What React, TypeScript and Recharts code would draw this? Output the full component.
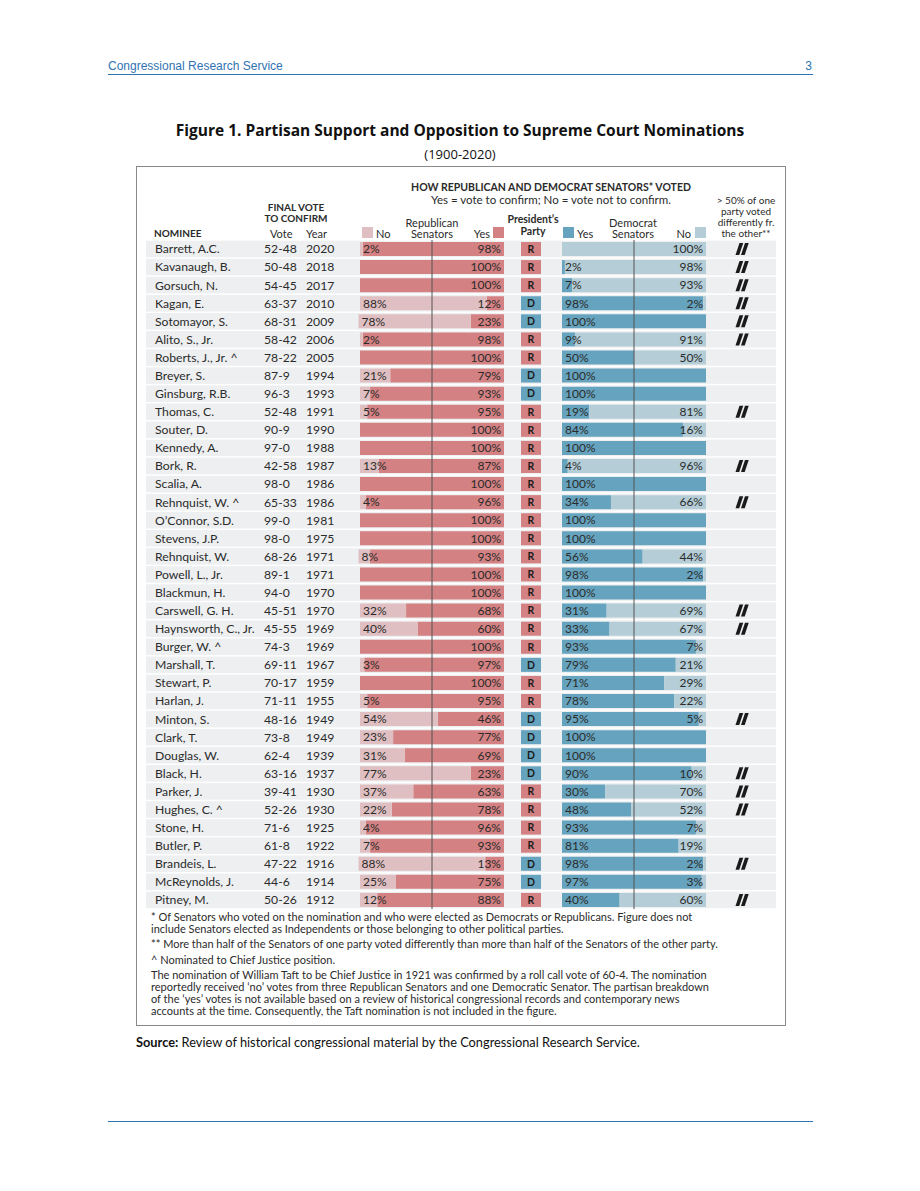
import React from 'react'
import { BarChart, Bar, XAxis, YAxis, LabelList, ReferenceLine } from 'recharts'

const nominees = [
  'Barrett, A.C.', 'Kavanaugh, B.', 'Gorsuch, N.', 'Kagan, E.', 'Sotomayor, S.', 'Alito, S., Jr.',
  'Roberts, J., Jr. ^', 'Breyer, S.', 'Ginsburg, R.B.', 'Thomas, C.', 'Souter, D.', 'Kennedy, A.',
  'Bork, R.', 'Scalia, A.', 'Rehnquist, W. ^', 'O\u2019Connor, S.D.', 'Stevens, J.P.', 'Rehnquist, W.',
  'Powell, L., Jr.', 'Blackmun, H.', 'Carswell, G. H.', 'Haynsworth, C., Jr.', 'Burger, W. ^',
  'Marshall, T.', 'Stewart, P.', 'Harlan, J.', 'Minton, S.', 'Clark, T.', 'Douglas, W.', 'Black, H.',
  'Parker, J.', 'Hughes, C. ^', 'Stone, H.', 'Butler, P.', 'Brandeis, L.', 'McReynolds, J.', 'Pitney, M.',
]
const votes = [
  '52-48', '50-48', '54-45', '63-37', '68-31', '58-42', '78-22', '87-9', '96-3', '52-48', '90-9', '97-0',
  '42-58', '98-0', '65-33', '99-0', '98-0', '68-26', '89-1', '94-0', '45-51', '45-55', '74-3', '69-11',
  '70-17', '71-11', '48-16', '73-8', '62-4', '63-16', '39-41', '52-26', '71-6', '61-8', '47-22', '44-6', '50-26',
]
const years = [
  2020, 2018, 2017, 2010, 2009, 2006, 2005, 1994, 1993, 1991, 1990, 1988, 1987, 1986, 1986, 1981, 1975, 1971,
  1971, 1970, 1970, 1969, 1969, 1967, 1959, 1955, 1949, 1949, 1939, 1937, 1930, 1930, 1925, 1922, 1916, 1914, 1912,
]
const presParty = [
  'R', 'R', 'R', 'D', 'D', 'R', 'R', 'D', 'D', 'R', 'R', 'R', 'R', 'R', 'R', 'R', 'R', 'R', 'R', 'R', 'R', 'R',
  'R', 'D', 'R', 'R', 'D', 'D', 'D', 'D', 'R', 'R', 'R', 'R', 'D', 'D', 'R',
]
// Republican senators: share voting No / Yes
const repNo = [2, 0, 0, 88, 78, 2, 0, 21, 7, 5, 0, 0, 13, 0, 4, 0, 0, 8, 0, 0, 32, 40, 0, 3, 0, 5, 54, 23, 31, 77, 37, 22, 4, 7, 88, 25, 12]
const repYes = [98, 100, 100, 12, 23, 98, 100, 79, 93, 95, 100, 100, 87, 100, 96, 100, 100, 93, 100, 100, 68, 60, 100, 97, 100, 95, 46, 77, 69, 23, 63, 78, 96, 93, 13, 75, 88]
// Democrat senators: share voting Yes / No
const demYes = [0, 2, 7, 98, 100, 9, 50, 100, 100, 19, 84, 100, 4, 100, 34, 100, 100, 56, 98, 100, 31, 33, 93, 79, 71, 78, 95, 100, 100, 90, 30, 48, 93, 81, 98, 97, 40]
const demNo = [100, 98, 93, 2, 0, 91, 50, 0, 0, 81, 16, 0, 96, 0, 66, 0, 0, 44, 2, 0, 69, 67, 7, 21, 29, 22, 5, 0, 0, 10, 70, 52, 7, 19, 2, 3, 60]
// > 50% of one party voted differently from the other
const split = [1, 1, 1, 1, 1, 1, 0, 0, 0, 1, 0, 0, 1, 0, 1, 0, 0, 0, 0, 0, 1, 1, 0, 0, 0, 0, 1, 0, 0, 1, 1, 1, 0, 0, 1, 0, 1]

const rows = nominees.map((name, i) => ({
  name,
  vote: votes[i],
  year: years[i],
  party: presParty[i],
  repNo: repNo[i],
  repYes: repYes[i],
  demYes: demYes[i],
  demNo: demNo[i],
  split: split[i] === 1,
}))

const RED = '#d38182'
const PINK = '#dfbfc1'
const BLUE = '#66a3be'
const LIGHTBLUE = '#b4cdd7'
const BAND = '#eeeff1'
const INK = '#2b2b2b'
const CRS = '#2f73b3'
const FONT = 'Lato, "Open Sans", sans-serif'
const TITLE_FONT = '"Open Sans", Lato, sans-serif'

// page geometry of the chart block
const CHART_LEFT = 146
const CHART_TOP = 240
const CHART_W = 630
const CHART_H = 669
const CHART_RIGHT = CHART_LEFT + CHART_W
const REP_RIGHT = 504 // republican bar runs right-to-left from here (Yes first, then No)
const DEM_X0 = 562
const BAR_PX = 144
const pxPerUnit = BAR_PX / 100
const REP_DOMAIN = [-(CHART_RIGHT - REP_RIGHT) / pxPerUnit, (REP_RIGHT - CHART_LEFT) / pxPerUnit]
const DEM_DOMAIN = [-(DEM_X0 - CHART_LEFT) / pxPerUnit, (CHART_RIGHT - DEM_X0) / pxPerUnit]

const pct = (v: any) => (v ? `${v}%` : '')

function T({ x, y, size = 11, bold = false, align = 'left', color = INK, family = FONT, children }: any) {
  const shift = align === 'center' ? '-50%' : align === 'right' ? '-100%' : '0'
  return (
    <div
      style={{
        position: 'absolute',
        left: x,
        top: y - size / 2,
        fontSize: size,
        lineHeight: `${size}px`,
        fontWeight: bold ? 700 : 400,
        fontFamily: family,
        color,
        whiteSpace: 'nowrap',
        transform: `translateX(${shift})`,
      }}
    >
      {children}
    </div>
  )
}

function Swatch({ x, color }: any) {
  return <div style={{ position: 'absolute', left: x, top: 227, width: 11, height: 11, background: color }} />
}

// grey row band plus the row's text columns, badge and split marker
function RowBand(p: any) {
  const yc = p.y + p.height / 2
  const r = p.payload && p.payload.name ? p.payload : rows[Math.floor(yc / (CHART_H / rows.length))]
  const bx = DEM_X0 - CHART_LEFT - 41
  const sx = 742 - CHART_LEFT
  return (
    <g>
      <rect x={p.x} y={p.y - 1.3} width={p.width} height={p.height + 2.6} fill={BAND} />
      {r && (
        <g fontFamily={FONT} fill={INK}>
          <text x={9} y={yc} dy="0.36em" fontSize={12.2}>{r.name}</text>
          <text x={118} y={yc} dy="0.36em" fontSize={12.2}>{r.vote}</text>
          <text x={160} y={yc} dy="0.36em" fontSize={12.2}>{r.year}</text>
          <rect x={bx} y={yc - 7} width={20} height={14} fill={r.party === 'R' ? RED : BLUE} />
          <text x={bx + 10} y={yc} dy="0.36em" fontSize={10.5} fontWeight={700} textAnchor="middle" fill="#1c1c1c">
            {r.party}
          </text>
          {r.split && (
            <g fill="#1a1a1a">
              <path d={`M${sx - 6.5},${yc + 6} L${sx - 2.8},${yc + 6} L${sx + 1.2},${yc - 6} L${sx - 2.5},${yc - 6} Z`} />
              <path d={`M${sx - 1},${yc + 6} L${sx + 2.7},${yc + 6} L${sx + 6.7},${yc - 6} L${sx + 3},${yc - 6} Z`} />
            </g>
          )}
        </g>
      )}
    </g>
  )
}

const labelStyle = { fill: INK, fontSize: 12, fontFamily: FONT }

export default function App() {
  return (
    <div style={{ position: 'absolute', left: 0, top: 0, width: 920, height: 1191, background: '#fff', fontFamily: FONT }}>
      {/* page header */}
      <T x={108} y={66} size={12} color={CRS} family='"Liberation Sans", Arial, sans-serif'>Congressional Research Service</T>
      <T x={812} y={66} size={12} align="right" color={CRS} family='"Liberation Sans", Arial, sans-serif'>3</T>
      <div style={{ position: 'absolute', left: 108, top: 74, width: 705, height: 1, background: CRS }} />

      <T x={460} y={131} size={15.5} bold align="center" color="#111" family={TITLE_FONT}>
        Figure 1. Partisan Support and Opposition to Supreme Court Nominations
      </T>
      <T x={460} y={154} size={13} align="center" color="#111" family={TITLE_FONT}>(1900-2020)</T>

      <div style={{ position: 'absolute', left: 136, top: 166, width: 648, height: 858, border: '1px solid #8a8a8a' }} />

      {/* table header */}
      <T x={551} y={187} size={10.5} bold align="center">HOW REPUBLICAN AND DEMOCRAT SENATORS* VOTED</T>
      <T x={551} y={200} size={11.5} align="center">Yes = vote to confirm; No = vote not to confirm.</T>
      <T x={296} y={207} size={10} bold align="center">FINAL VOTE</T>
      <T x={296} y={218} size={10} bold align="center">TO CONFIRM</T>
      <T x={154} y={233} size={10} bold>NOMINEE</T>
      <T x={270} y={233} size={11}>Vote</T>
      <T x={306} y={233} size={11}>Year</T>

      <Swatch x={362} color={PINK} />
      <T x={376} y={233} size={11}>No</T>
      <T x={432} y={222} size={11} align="center">Republican</T>
      <T x={432} y={233} size={11} align="center">Senators</T>
      <T x={490} y={233} size={11} align="right">Yes</T>
      <Swatch x={493} color={RED} />
      <T x={533} y={219} size={10.5} bold align="center">President’s</T>
      <T x={533} y={231} size={10.5} bold align="center">Party</T>
      <Swatch x={563} color={BLUE} />
      <T x={577} y={233} size={11}>Yes</T>
      <T x={633} y={222} size={11} align="center">Democrat</T>
      <T x={633} y={233} size={11} align="center">Senators</T>
      <T x={691} y={233} size={11} align="right">No</T>
      <Swatch x={695} color={LIGHTBLUE} />
      <T x={746} y={200} size={10} align="center">&gt; 50% of one</T>
      <T x={746} y={211} size={10} align="center">party voted</T>
      <T x={746} y={222} size={10} align="center">differently fr.</T>
      <T x={746} y={233} size={10} align="center">the other**</T>

      <div style={{ position: 'absolute', left: CHART_LEFT, top: CHART_TOP }}>
        <BarChart
          width={CHART_W}
          height={CHART_H}
          layout="vertical"
          data={rows}
          margin={{ top: 0, right: 0, bottom: 0, left: 0 }}
          barSize={14}
          barGap={-14}
        >
          <XAxis xAxisId="rep" type="number" domain={REP_DOMAIN} reversed allowDataOverflow hide />
          <XAxis xAxisId="dem" type="number" domain={DEM_DOMAIN} allowDataOverflow hide />
          <YAxis type="category" dataKey="name" hide />
          {/* reversed axis: "insideLeft" lands at the bar's right end, and vice versa */}
          <Bar xAxisId="rep" dataKey="repYes" stackId="rep" fill={RED} background={RowBand} isAnimationActive={false}>
            <LabelList dataKey="repYes" position="insideLeft" offset={3} formatter={pct} style={labelStyle} />
          </Bar>
          <Bar xAxisId="rep" dataKey="repNo" stackId="rep" fill={PINK} isAnimationActive={false}>
            <LabelList dataKey="repNo" position="insideRight" offset={3} formatter={pct} style={labelStyle} />
          </Bar>
          <Bar xAxisId="dem" dataKey="demYes" stackId="dem" fill={BLUE} isAnimationActive={false}>
            <LabelList dataKey="demYes" position="insideLeft" offset={3} formatter={pct} style={labelStyle} />
          </Bar>
          <Bar xAxisId="dem" dataKey="demNo" stackId="dem" fill={LIGHTBLUE} isAnimationActive={false}>
            <LabelList dataKey="demNo" position="insideRight" offset={3} formatter={pct} style={labelStyle} />
          </Bar>
          <ReferenceLine xAxisId="rep" x={50} stroke="#555" strokeWidth={1} />
          <ReferenceLine xAxisId="dem" x={50} stroke="#555" strokeWidth={1} />
        </BarChart>
      </div>

      {/* notes */}
      <T x={151} y={916} size={11}>* Of Senators who voted on the nomination and who were elected as Democrats or Republicans. Figure does not</T>
      <T x={151} y={928} size={11}>include Senators elected as Independents or those belonging to other political parties.</T>
      <T x={151} y={943} size={11}>** More than half of the Senators of one party voted differently than more than half of the Senators of the other party.</T>
      <T x={151} y={959} size={11}>^ Nominated to Chief Justice position.</T>
      <T x={151} y={974} size={11}>The nomination of William Taft to be Chief Justice in 1921 was confirmed by a roll call vote of 60-4. The nomination</T>
      <T x={151} y={986} size={11}>reportedly received ‘no’ votes from three Republican Senators and one Democratic Senator. The partisan breakdown</T>
      <T x={151} y={998} size={11}>of the ‘yes’ votes is not available based on a review of historical congressional records and contemporary news</T>
      <T x={151} y={1010} size={11}>accounts at the time. Consequently, the Taft nomination is not included in the figure.</T>

      <T x={136} y={1042} size={12.8} color="#111">
        <b>Source:</b> Review of historical congressional material by the Congressional Research Service.
      </T>

      <div style={{ position: 'absolute', left: 108, top: 1121, width: 705, height: 1, background: CRS }} />
    </div>
  )
}
